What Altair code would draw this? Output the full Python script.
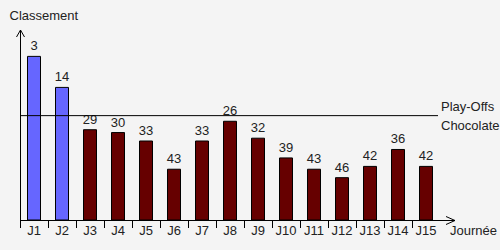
import altair as alt
import pandas as pd

journees = ["J1", "J2", "J3", "J4", "J5", "J6", "J7", "J8",
            "J9", "J10", "J11", "J12", "J13", "J14", "J15"]
classement = [3, 14, 29, 30, 33, 43, 33, 26, 32, 39, 43, 46, 42, 36, 42]
seuil_playoffs = 24
y_domaine = [-6, 61]
titre_y = "Classement"
titre_x = "Journée"
label_haut = "Play-Offs"
label_bas = "Chocolate"

df = pd.DataFrame({"journee": journees, "classement": classement})
deco_df = pd.DataFrame({"d": [0]})

FONT = "Liberation Sans"
TXT = "#222222"
W, H = 420, 189

xscale = alt.Scale(paddingInner=0, paddingOuter=0)
yscale = alt.Scale(domain=y_domaine, reverse=True, nice=False, zero=False)
x = alt.X("journee:N", sort=journees, scale=xscale, axis=None)

base = alt.Chart(df)

bars = base.mark_bar(size=13, stroke="black", strokeWidth=1).encode(
    x=x,
    y=alt.Y("classement:Q", scale=yscale, axis=None),
    y2=alt.datum(y_domaine[1]),
    color=alt.condition(alt.datum.classement <= seuil_playoffs,
                        alt.value("#6666ff"), alt.value("#660000")),
)

vals = base.mark_text(fontSize=13, font=FONT, color=TXT, baseline="alphabetic", dy=-6).encode(
    x=x,
    y=alt.Y("classement:Q", scale=yscale, axis=None),
    text="classement:Q",
)

cats = base.mark_text(fontSize=13, font=FONT, color=TXT, baseline="alphabetic").encode(
    x=x,
    y=alt.value(204),
    text="journee:N",
)

ticks = base.mark_rule(color="black", strokeWidth=1, xOffset=0.5).encode(
    x=alt.X("journee:N", sort=journees, scale=xscale, axis=None, bandPosition=0),
    y=alt.value(189),
    y2=alt.value(197),
)

deco = alt.Chart(deco_df)


def seg(x1, y1, x2, y2):
    return deco.mark_rule(color="black", strokeWidth=1).encode(
        x=alt.value(x1), x2=alt.value(x2), y=alt.value(y1), y2=alt.value(y2)
    )


axes = [
    seg(0.5, -1, 0.5, 197),        # y axis
    seg(-3.5, 6, 0.5, -1),         # arrow y
    seg(4.5, 6, 0.5, -1),
    seg(0, 189.5, 435, 189.5),     # x axis
    seg(426, 185.5, 435, 189.5),   # arrow x
    seg(426, 193.5, 435, 189.5),
]

ydat = alt.Y(datum=seuil_playoffs, type="quantitative", scale=yscale, axis=None)
po_line = deco.mark_rule(color="black", strokeWidth=1).encode(
    x=alt.value(0), x2=alt.value(418), y=ydat
)
po_top = deco.mark_text(fontSize=13, font=FONT, color=TXT, align="left",
                        baseline="alphabetic", dy=-5).encode(
    x=alt.value(421), y=ydat, text=alt.value(label_haut)
)
po_bot = deco.mark_text(fontSize=13, font=FONT, color=TXT, align="left",
                        baseline="alphabetic", dy=14).encode(
    x=alt.value(421), y=ydat, text=alt.value(label_bas)
)

t_y = deco.mark_text(fontSize=13, font=FONT, color=TXT, align="left",
                     baseline="alphabetic").encode(
    x=alt.value(-10.5), y=alt.value(-11.5), text=alt.value(titre_y)
)
t_x = deco.mark_text(fontSize=13, font=FONT, color=TXT, align="left",
                     baseline="alphabetic").encode(
    x=alt.value(430), y=alt.value(204), text=alt.value(titre_x)
)

chart = alt.layer(
    bars, vals, cats, ticks, *axes, po_line, po_top, po_bot, t_y, t_x
).properties(
    width=W, height=H,
    autosize=alt.AutoSizeParams(type="none"),
    padding={"left": 20, "top": 31, "right": 60, "bottom": 30},
    background="#f4f4f4",
).configure_view(stroke=None)

chart.save("out.html", embed_options={"renderer": "svg", "actions": False})
